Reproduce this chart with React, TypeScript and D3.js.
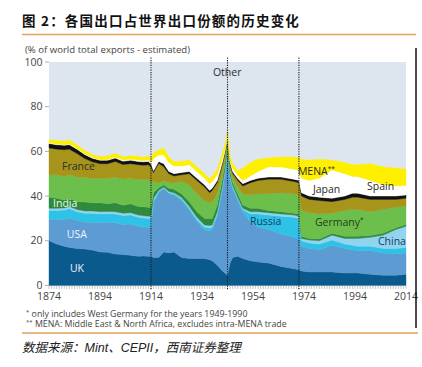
import React, { useEffect, useRef } from 'react';
import * as d3 from 'd3';

// share of world exports (%), bottom layer first
const years = [
  1874, 1877, 1880, 1882, 1885, 1888, 1891, 1894, 1897, 1900,
  1903, 1906, 1909, 1911, 1913, 1914, 1915, 1917, 1919, 1921,
  1923, 1926, 1929, 1932, 1935, 1937, 1938, 1940, 1942, 1943,
  1944, 1945, 1946, 1948, 1950, 1953, 1956, 1960, 1965, 1970,
  1972, 1973, 1976, 1980, 1985, 1990, 1993, 1995, 2000, 2005,
  2010, 2014,
];
const uk = [
  20, 18.5, 17.5, 17, 16.5, 16.3, 15.8, 15, 14.8, 14,
  13.8, 13.5, 13, 13.2, 13, 13, 12.5, 12.5, 15, 14.5,
  15, 12.5, 12, 12, 12, 11.5, 11, 9, 6.5, 5.5,
  4.5, 10, 12.5, 13, 12, 11, 10.5, 10, 8.5, 7.5,
  7, 6.5, 6, 6, 6, 5.5, 5.5, 5.5, 5, 4.5,
  4.5, 5,
];
const usa = [
  9.5, 11, 12, 13, 12.5, 12, 12.5, 13, 13.5, 14,
  13.5, 14, 13.5, 13, 13, 13.5, 24, 29, 28.5, 26.5,
  25.5, 25.5, 21.7, 16.5, 12.8, 13, 14, 22, 36, 44.5,
  54.5, 38, 30.5, 25, 21, 17.5, 15.5, 15, 14.5, 14,
  14, 11, 10.5, 10, 12, 11, 10.5, 10, 10.5, 10,
  9.5, 9.5,
];
const russia = [
  4, 4, 4.2, 4.3, 4, 4, 4, 4, 3.8, 4,
  4, 4, 4, 4, 4, 3.5, 1.5, 0.5, 0.3, 0.5,
  0.5, 0.7, 0.8, 1, 1.2, 1.3, 1, 1, 1, 1,
  1, 1, 1.2, 1, 1, 3.5, 6, 6.5, 8, 9,
  9, 2.5, 2.5, 2.5, 2.3, 2, 2, 2, 2, 2,
  2.5, 2.5,
];
const china = [
  1, 1, 1, 1, 1, 1, 1, 1, 1, 1,
  1, 1, 1, 1, 1, 1, 1, 0.5, 0.3, 0.5,
  0.5, 0.6, 0.8, 1, 1, 1, 1, 1, 1, 1,
  0.5, 0.5, 0.5, 0.5, 0.5, 1, 1, 1, 1, 1,
  1, 1, 1.3, 1.5, 2.2, 2.5, 3, 3.5, 4, 6,
  8.5, 9.5,
];
const india = [
  5, 4.5, 3.5, 3.7, 3.5, 4, 3.7, 4, 3.5, 4,
  3.6, 4, 3.8, 4, 4, 3.8, 2.5, 1.2, 0.9, 1.5,
  1.5, 1.7, 2.2, 2.5, 3, 3.2, 3, 3, 3, 2.5,
  1.5, 1.5, 1.5, 1.5, 1.5, 1.5, 1.5, 1, 1, 0.8,
  0.8, 1, 0.7, 0.8, 0.8, 1, 1, 1, 0.8, 0.8,
  0.8, 0.8,
];
const germany = [
  10, 10.5, 10.5, 10.5, 11, 11, 11, 11, 11.4, 11.5,
  11.7, 11.5, 12, 12.3, 12.5, 11.5, 5, 2.3, 2, 2.5,
  3, 5.5, 7.5, 8, 8, 7, 7.5, 5, 3, 2,
  1.5, 1.5, 2, 3, 5, 6, 6.5, 7.5, 8.5, 8.7,
  8.7, 11.5, 11.5, 11.2, 9, 11.5, 12, 12, 10.7, 10.7,
  9.2, 8.2,
];
const france = [
  12, 11.5, 12, 11.5, 10.5, 8.5, 7.3, 6.5, 6.5, 7,
  6.5, 6.5, 6.7, 6.3, 6.5, 6.5, 4, 8.6, 6.1, 4,
  3, 3, 5, 6, 6, 4.5, 5, 5, 3.5, 2.5,
  1.5, 1.5, 2, 3, 3.5, 5.5, 6, 6.5, 6, 5.5,
  5.5, 6.5, 6, 6, 5.2, 5, 5.5, 5.5, 5.5, 4.5,
  3.5, 3.5,
];
const spain = [
  2, 2, 2, 2, 2, 1.8, 1.6, 1.5, 1.5, 1.5,
  1.5, 1.5, 1.5, 1.5, 1.5, 1.5, 0.8, 0.9, 1.4, 1,
  1, 1, 1, 1, 1, 1, 1, 1, 1, 0.8,
  1, 1, 0.8, 0.8, 1, 1, 1, 1, 1, 1,
  1, 1.5, 1.5, 1.5, 1.5, 1.5, 1.8, 1.8, 1.5, 1.5,
  1.5, 1.5,
];
const japan = [
  0.3, 0.3, 0.3, 0.3, 0.3, 0.3, 0.3, 0.3, 0.4, 0.5,
  0.5, 0.5, 0.6, 0.6, 0.7, 0.7, 5.5, 2.9, 3.9, 4,
  3.5, 3, 3, 3, 3, 3, 3, 2.5, 1.5, 0.7,
  0.5, 0.5, 1.5, 1.5, 1.5, 2, 3, 4.5, 4.5, 4.5,
  4.5, 6.5, 7, 8.5, 12.7, 10, 7.5, 7.4, 7, 5,
  4.5, 4.2,
];
const mena = [
  1.5, 1.5, 1.6, 1.8, 1.5, 1.5, 1.3, 1.3, 1.5, 1.6,
  1.4, 1.5, 1.6, 1.4, 1.8, 1.8, 2.5, 2.2, 3, 2.5,
  1.9, 2, 2, 2, 2, 2.2, 2.5, 2.5, 2.5, 2.5,
  2.5, 2.5, 2, 2, 5.5, 6, 5.5, 4, 4.5, 5.5,
  5.5, 8.5, 9, 8.5, 4.3, 5, 5.2, 5.3, 7.5, 8,
  8, 7.3,
];

const seriesKeys = ['UK', 'USA', 'Russia', 'China', 'India', 'Germany', 'France', 'Spain', 'Japan', 'MENA'];
const seriesValues = [uk, usa, russia, china, india, germany, france, spain, japan, mena];
const seriesColors = ['#0b5a8e', '#5d9bd3', '#2ec2e6', '#92d4ef', '#2f8a3e', '#6dbf4b', '#a7941a', '#111111', '#ffffff', '#fff000'];
const otherColor = '#dde6ef';

const yTicks = [0, 20, 40, 60, 80, 100];
const xTicks = [1874, 1894, 1914, 1934, 1954, 1974, 1994, 2014];
const markerYears = [1914, 1944, 1972];

// label anchors in data units: [text, year, share, colour]
const labels: [string, number, number, string][] = [
  ['France', 1879.1, 51.6, '#2b2b2b'],
  ['India', 1875.6, 35.1, '#eef6e8'],
  ['USA', 1881, 21.2, '#eef4fb'],
  ['UK', 1882.2, 6.0, '#eef4fb'],
  ['Russia', 1952.8, 27, '#143d5e'],
  ['Japan', 1977.5, 41.4, '#2b2b2b'],
  ['Spain', 1998.7, 42.7, '#2b2b2b'],
  ['China', 2003, 18.1, '#143d5e'],
  ['Other', 1938.3, 93.7, '#2b2b2b'],
];

const LATIN = "'Open Sans', 'DejaVu Sans', sans-serif";
const CJK = "'Noto Sans CJK SC', 'Noto Sans', sans-serif";

export default function App() {
  const ref = useRef<SVGSVGElement>(null);

  useEffect(() => {
    document.body.style.margin = '0';
    const el = ref.current;
    if (!el) return;
    const svg = d3.select(el);
    svg.selectAll('*').remove();

    const x = d3.scaleLinear().domain([1874, 2014]).range([49, 406]);
    const y = d3.scaleLinear().domain([0, 100]).range([285.4, 62]);

    const table = years.map((yr, i) => {
      const row: Record<string, number> = { year: yr };
      seriesKeys.forEach((k, j) => (row[k] = seriesValues[j][i]));
      return row;
    });

    svg.append('rect').attr('width', 422).attr('height', 367).attr('fill', '#fff');

    // title
    svg.append('text')
      .attr('x', 22).attr('y', 26)
      .attr('font-family', CJK).attr('font-weight', 700).attr('font-size', 13.5)
      .attr('letter-spacing', 1.2).attr('fill', '#111')
      .text('图 2：各国出口占世界出口份额的历史变化');
    svg.append('line').attr('x1', 22).attr('x2', 416).attr('y1', 34.5).attr('y2', 34.5)
      .attr('stroke', '#e3a257').attr('stroke-width', 1.6);

    svg.append('text')
      .attr('x', 25).attr('y', 53)
      .attr('font-family', LATIN).attr('font-size', 9.6).attr('fill', '#444')
      .text('(% of world total exports - estimated)');

    // "Other" fills the rest up to 100%
    svg.append('rect')
      .attr('x', x(1874)).attr('y', y(100))
      .attr('width', x(2014) - x(1874)).attr('height', y(0) - y(100))
      .attr('fill', otherColor);

    const stack = d3.stack<Record<string, number>>().keys(seriesKeys);
    const layers = stack(table);
    const area = d3.area<d3.SeriesPoint<Record<string, number>>>()
      .x((d) => x(d.data.year))
      .y0((d) => y(d[0]))
      .y1((d) => y(d[1]))
      .curve(d3.curveLinear);

    svg.append('g')
      .selectAll('path')
      .data(layers)
      .join('path')
      .attr('d', area)
      .attr('fill', (d, i) => seriesColors[i])
      .attr('stroke', (d, i) => seriesColors[i])
      .attr('stroke-width', 0.4);

    // minor year ticks under the plot
    svg.append('g')
      .selectAll('line')
      .data(d3.range(1874, 2015))
      .join('line')
      .attr('x1', (d) => x(d)).attr('x2', (d) => x(d))
      .attr('y1', y(0)).attr('y2', y(0) + 3.5)
      .attr('stroke', '#9a9a9a').attr('stroke-width', 0.6);

    // dotted marker lines
    svg.append('g')
      .selectAll('line')
      .data(markerYears)
      .join('line')
      .attr('x1', (d) => x(d)).attr('x2', (d) => x(d))
      .attr('y1', y(102)).attr('y2', y(-2))
      .attr('stroke', '#1a1a1a').attr('stroke-width', 1.1)
      .attr('stroke-dasharray', '1.2,1.2');

    // y axis
    const gy = svg.append('g');
    gy.selectAll('line')
      .data(yTicks)
      .join('line')
      .attr('x1', 45).attr('x2', 49)
      .attr('y1', (d) => y(d)).attr('y2', (d) => y(d))
      .attr('stroke', '#999').attr('stroke-width', 0.8);
    gy.selectAll('text')
      .data(yTicks)
      .join('text')
      .attr('x', 42.5).attr('y', (d) => y(d) + 3.5)
      .attr('text-anchor', 'end')
      .attr('font-family', LATIN).attr('font-size', 10.5).attr('fill', '#444')
      .text((d) => d);

    // x axis labels
    svg.append('g')
      .selectAll('text')
      .data(xTicks)
      .join('text')
      .attr('x', (d) => x(d)).attr('y', 299.5)
      .attr('text-anchor', 'middle')
      .attr('font-family', LATIN).attr('font-size', 10.5).attr('fill', '#444')
      .text((d) => d);

    // series labels
    svg.append('g')
      .selectAll('text')
      .data(labels)
      .join('text')
      .attr('x', (d) => x(d[1])).attr('y', (d) => y(d[2]))
      .attr('font-family', LATIN).attr('font-size', 10.5)
      .attr('fill', (d) => d[3])
      .text((d) => d[0]);

    const sup = (t: d3.Selection<SVGTextElement, unknown, null, undefined>, main: string, mark: string) => {
      t.append('tspan').text(main);
      t.append('tspan').attr('font-size', 6.5).attr('dy', -4).text(mark);
    };
    sup(svg.append('text').attr('x', x(1978.3)).attr('y', y(26.6))
      .attr('font-family', LATIN).attr('font-size', 10.5).attr('fill', '#24401f'), 'Germany', '*');
    sup(svg.append('text').attr('x', x(1971.6)).attr('y', y(49.4))
      .attr('font-family', LATIN).attr('font-size', 10.5).attr('fill', '#2b2b2b'), 'MENA', '**');

    // frame line at right
    svg.append('line').attr('x1', 416).attr('x2', 416).attr('y1', 48).attr('y2', 328)
      .attr('stroke', '#111').attr('stroke-width', 1.5);

    // footnotes
    const f1 = svg.append('text').attr('x', 26).attr('y', 316.5)
      .attr('font-family', LATIN).attr('font-size', 8.8).attr('fill', '#444');
    f1.append('tspan').attr('font-size', 6).attr('dy', -3).text('*');
    f1.append('tspan').attr('dy', 3).text(' only includes West Germany for the years 1949-1990');
    const f2 = svg.append('text').attr('x', 26).attr('y', 327)
      .attr('font-family', LATIN).attr('font-size', 8.8).attr('fill', '#444');
    f2.append('tspan').attr('font-size', 6).attr('dy', -3).text('**');
    f2.append('tspan').attr('dy', 3).text(' MENA: Middle East & North Africa, excludes intra-MENA trade');

    svg.append('line').attr('x1', 22).attr('x2', 418).attr('y1', 333).attr('y2', 333)
      .attr('stroke', '#e3a257').attr('stroke-width', 1.6);

    const src = svg.append('text').attr('x', 22).attr('y', 352)
      .attr('font-size', 12.5).attr('font-style', 'italic').attr('fill', '#222');
    src.append('tspan').attr('font-family', CJK).text('数据来源：');
    src.append('tspan').attr('font-family', "'Liberation Sans', Arial, sans-serif").text('Mint');
    src.append('tspan').attr('font-family', CJK).text('、');
    src.append('tspan').attr('font-family', "'Liberation Sans', Arial, sans-serif").text('CEPII');
    src.append('tspan').attr('font-family', CJK).text('，西南证券整理');
  }, []);

  return <svg ref={ref} width={422} height={367} style={{ display: 'block' }} />;
}
